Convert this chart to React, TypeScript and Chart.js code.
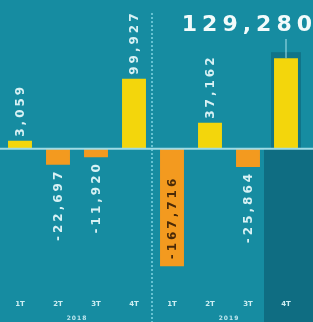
import React, { useEffect, useRef } from "react";
import { Chart, registerables } from "chart.js";

Chart.register(...registerables);

const quarters = ["1T", "2T", "3T", "4T", "1T", "2T", "3T", "4T"];
const groupLabels = ["2018", "2019"];
const values = [3059, -22697, -11920, 99927, -167716, 37162, -25864, 129280];
const highlightIndex = 7;
const insideLabelIndex = 4;

const BG = "#168ca1";
const BG_DARK = "#0f6d82";
const YELLOW = "#f3d60c";
const ORANGE = "#f39a1f";
const LIGHT = "#d8f1f4";

const fmt = (n: number) => n.toLocaleString("en-US");

const decorPlugin = {
  id: "decor",
  beforeDraw(chart: any) {
    const { ctx, width, height, scales } = chart;
    const x = scales.x;
    const y = scales.y;
    const y0 = y.getPixelForValue(0);
    ctx.save();
    ctx.fillStyle = BG;
    ctx.fillRect(0, 0, width, height);
    const hx = x.getPixelForValue(highlightIndex);
    ctx.fillStyle = BG_DARK;
    ctx.fillRect(hx - 22, y0, width - (hx - 22), height - y0);
    const top = y.getPixelForValue(values[highlightIndex]);
    ctx.fillStyle = "rgba(10,80,100,0.4)";
    ctx.fillRect(hx - 15, top - 6, 30, y0 - top + 6);
    ctx.restore();
  },
  afterDatasetsDraw(chart: any) {
    const { ctx, width, height, scales } = chart;
    const x = scales.x;
    const y = scales.y;
    const y0 = y.getPixelForValue(0);
    ctx.save();
    ctx.strokeStyle = "#9fdbe6";
    ctx.lineWidth = 2;
    ctx.beginPath();
    ctx.moveTo(0, y0);
    ctx.lineTo(width, y0);
    ctx.stroke();
    const dx = (x.getPixelForValue(3) + x.getPixelForValue(4)) / 2 - 1;
    ctx.strokeStyle = "#7fd3e2";
    ctx.lineWidth = 1.5;
    ctx.setLineDash([2, 2]);
    ctx.beginPath();
    ctx.moveTo(dx, 13);
    ctx.lineTo(dx, height);
    ctx.stroke();
    ctx.setLineDash([]);

    ctx.font = "bold 12px 'DejaVu Sans'";
    (ctx as any).letterSpacing = "3px";
    ctx.textBaseline = "middle";
    const meta = chart.getDatasetMeta(0);
    values.forEach((v, i) => {
      if (i === highlightIndex) return;
      const bar = meta.data[i];
      const bx = bar.x;
      const by = bar.y;
      ctx.save();
      if (i === insideLabelIndex) {
        ctx.translate(bx + 1, by - 7);
        ctx.rotate(-Math.PI / 2);
        ctx.textAlign = "left";
        ctx.fillStyle = "#4a2a08";
      } else if (v >= 0) {
        ctx.translate(bx + 1, by - 4);
        ctx.rotate(-Math.PI / 2);
        ctx.textAlign = "left";
        ctx.fillStyle = LIGHT;
      } else {
        ctx.translate(bx + 1, by + 4);
        ctx.rotate(-Math.PI / 2);
        ctx.textAlign = "right";
        ctx.fillStyle = LIGHT;
      }
      ctx.fillText(fmt(v), 0, 0);
      ctx.restore();
    });

    const hb = meta.data[highlightIndex];
    ctx.font = "bold 22px 'DejaVu Sans'";
    (ctx as any).letterSpacing = "5px";
    ctx.textAlign = "right";
    ctx.textBaseline = "middle";
    ctx.fillStyle = "#f2fbfb";
    ctx.fillText(fmt(values[highlightIndex]), width + 4, 25);
    ctx.strokeStyle = "#a8e2ec";
    ctx.lineWidth = 1;
    ctx.beginPath();
    ctx.moveTo(hb.x, 39);
    ctx.lineTo(hb.x, hb.y);
    ctx.stroke();

    (ctx as any).letterSpacing = "1px";
    ctx.font = "bold 6px 'DejaVu Sans'";
    ctx.fillStyle = "#bfe6ee";
    ctx.textAlign = "center";
    groupLabels.forEach((g, gi) => {
      const cx = (x.getPixelForValue(gi * 4) + x.getPixelForValue(gi * 4 + 3)) / 2;
      ctx.fillText(g, cx, 318);
    });
    ctx.restore();
  },
};

export default function App() {
  const ref = useRef<HTMLCanvasElement | null>(null);
  useEffect(() => {
    document.body.style.margin = "0";
    document.body.style.background = BG;
    const canvas = ref.current;
    if (!canvas) return;
    const chart = new Chart(canvas, {
      type: "bar",
      data: {
        labels: quarters,
        datasets: [
          {
            data: values,
            backgroundColor: values.map((v) => (v >= 0 ? YELLOW : ORANGE)),
            borderWidth: 0,
            barPercentage: 0.63,
            categoryPercentage: 1,
            minBarLength: 8,
          },
        ],
      },
      options: {
        responsive: false,
        animation: false,
        devicePixelRatio: 1,
        layout: { padding: { left: 1, right: 8, top: 0, bottom: 10 } },
        plugins: { legend: { display: false }, tooltip: { enabled: false } },
        scales: {
          x: {
            grid: { display: false, drawTicks: false },
            border: { display: false },
            ticks: {
              color: "#cdeef2",
              font: { size: 7, weight: "bold", family: "'DejaVu Sans'" },
              padding: 4,
              maxRotation: 0,
              autoSkip: false,
            },
          },
          y: { display: false, min: -209500, max: 212300 },
        },
      },
      plugins: [decorPlugin],
    } as any);
    return () => chart.destroy();
  }, []);
  return (
    <div style={{ width: 313, height: 322 }}>
      <canvas ref={ref} width={313} height={322} style={{ display: "block" }} />
    </div>
  );
}
